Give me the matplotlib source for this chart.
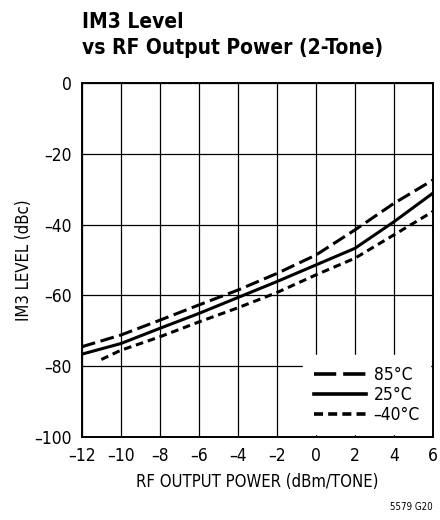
import numpy as np
import matplotlib
matplotlib.use("Agg")
import matplotlib.pyplot as plt
from matplotlib.lines import Line2D

plt.rcParams['font.family'] = ['DejaVu Sans']
plt.rcParams['font.stretch'] = 'condensed'
plt.rcParams['lines.scale_dashes'] = False

# data
x_pts = [-12, -10, -8, -6, -4, -2, 0, 2, 4, 6]
im3_85c = [-74.5, -71.2, -67.0, -62.7, -58.5, -53.8, -48.6, -41.5, -34.0, -27.4]
im3_25c = [-76.6, -73.6, -69.3, -65.1, -60.6, -56.1, -51.4, -46.7, -39.2, -31.1]
x_m40 = [-11, -10, -8, -6, -4, -2, 0, 2, 4, 6]
im3_m40c = [-78.1, -75.5, -71.7, -67.5, -63.5, -59.2, -54.2, -49.5, -42.9, -36.3]
labels = ['85\u00b0C', '25\u00b0C', '\u201340\u00b0C']

xticks = list(range(-12, 7, 2))
yticks = [0, -20, -40, -60, -80, -100]

def fmt(v):
    return str(v).replace('-', '\u2013')

fig = plt.figure(figsize=(4.4, 5.2), dpi=100)
ax = fig.add_axes([0.186, 0.1596, 0.798, 0.6808])

ax.plot(x_pts, im3_85c, color='black', lw=2.2, dashes=(10, 4))
ax.plot(x_pts, im3_25c, color='black', lw=2.2)
ax.plot(x_m40, im3_m40c, color='black', lw=2.2, dashes=(5.5, 3.5))

ax.set_xlim(-12, 6)
ax.set_ylim(-100, 0)
ax.set_xticks(xticks)
ax.set_xticklabels([fmt(v) for v in xticks], fontsize=12.5)
ax.set_yticks(yticks)
ax.set_yticklabels([fmt(v) for v in yticks], fontsize=12.5)
ax.tick_params(length=0, pad=7)
ax.grid(True, color='black', lw=0.9)
for s in ax.spines.values():
    s.set_linewidth(1.4)

ax.set_xlabel('RF OUTPUT POWER (dBm/TONE)', fontsize=12, labelpad=6)
ax.set_ylabel('IM3 LEVEL (dBc)', fontsize=12, labelpad=1)

# legend handles with longer dashes like the original
handles = [Line2D([], [], color='black', lw=2.6, dashes=(16, 5)),
           Line2D([], [], color='black', lw=2.6),
           Line2D([], [], color='black', lw=2.6, dashes=(6.5, 3.7))]
leg = ax.legend(handles, labels, loc='lower right', frameon=True, fontsize=12.5,
                handlelength=3.0, handletextpad=0.45, labelspacing=0.12,
                borderaxespad=0.15, borderpad=0.6)
leg.get_frame().set_edgecolor('white')
leg.get_frame().set_facecolor('white')
leg.get_frame().set_alpha(1)
leg.get_frame().set_boxstyle('square', pad=0)

fig.text(0.186, 0.976, 'IM3 Level\nvs RF Output Power (2-Tone)', fontsize=15,
         fontweight='bold', va='top', ha='left', linespacing=1.35)
fig.text(0.984, 0.015, '5579 G20', fontsize=7, ha='right', va='bottom')

fig.savefig('out.png', dpi=100)
